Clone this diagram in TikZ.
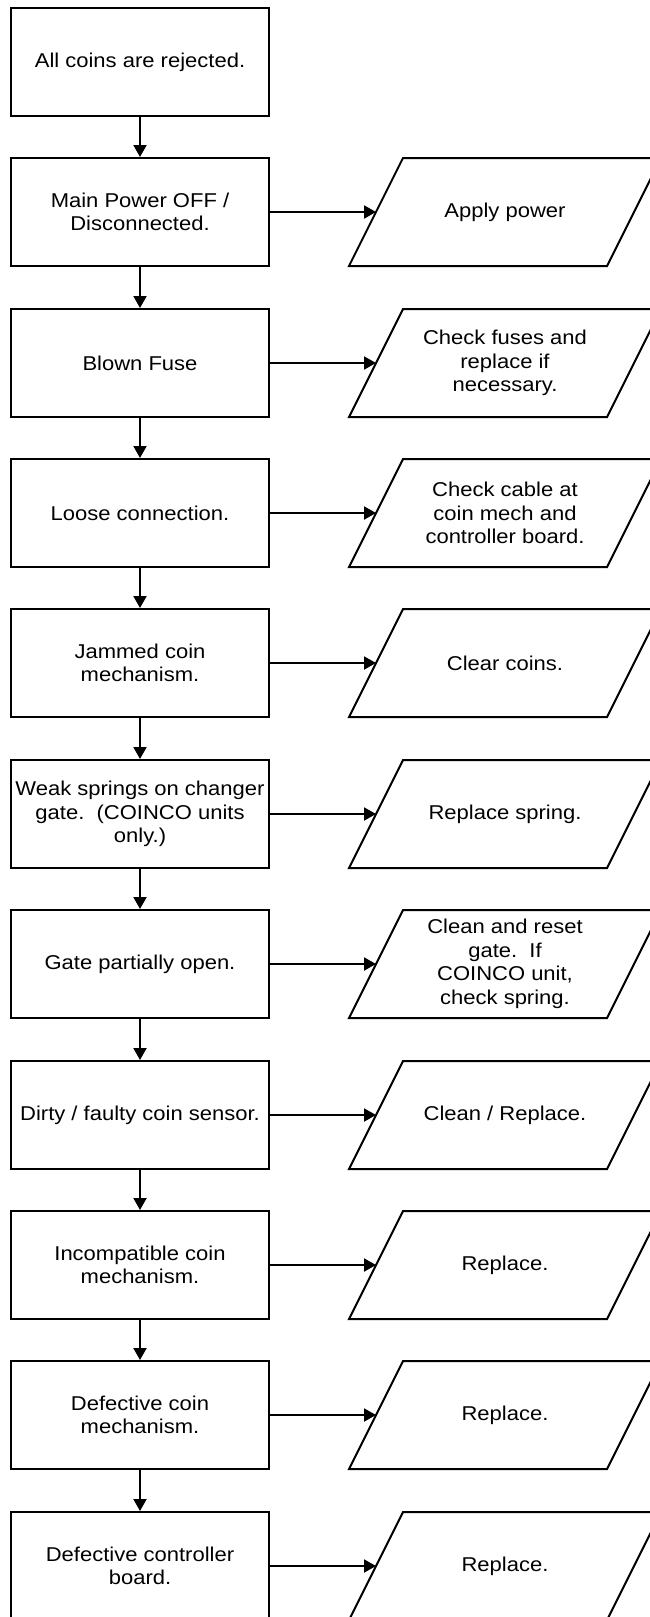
\documentclass[tikz,border=0pt]{standalone}
\usepackage{fontspec}
\setmainfont{Liberation Sans}[FakeStretch=1.1]
\usetikzlibrary{arrows.meta}
\tikzset{
  lbl/.style={font=\fontsize{20}{23.5}\selectfont, align=center, inner sep=0pt},
  cbox/.style={draw, line width=2pt, minimum width=258pt, minimum height=108pt, inner sep=0pt, lbl},
  para/.style={draw, line width=2pt, line join=miter},
  arr/.style={line width=2pt, -{Triangle[length=12pt,width=13pt]}},
}
\newcommand\actpara[3]{%
  \draw[para] ({349},{#2+54}) -- ({607},{#2+54}) -- ({661},{#2-54}) -- ({403},{#2-54}) -- cycle;
  \node[lbl] (#1) at ({505},{#2}) {#3};
  \coordinate (#1e) at ({376},{#2});
}
\begin{document}
\begin{tikzpicture}[x=1pt,y=-1pt]
\useasboundingbox (0,0) rectangle (650,1617);
\node[cbox] (b0) at (140,62) {All coins are rejected.};
\node[cbox] (b1) at (140,212) {Main Power OFF /\\Disconnected.};
\node[cbox] (b2) at (140,363) {Blown Fuse};
\node[cbox] (b3) at (140,513) {Loose connection.};
\node[cbox] (b4) at (140,663) {Jammed coin\\mechanism.};
\node[cbox] (b5) at (140,814) {Weak springs on changer\\gate.\ \ (COINCO units\\only.)};
\node[cbox] (b6) at (140,964) {Gate partially open.};
\node[cbox] (b7) at (140,1115) {Dirty / faulty coin sensor.};
\node[cbox] (b8) at (140,1265) {Incompatible coin\\mechanism.};
\node[cbox] (b9) at (140,1415) {Defective coin\\mechanism.};
\node[cbox] (b10) at (140,1566) {Defective controller\\board.};

\actpara{a1}{212}{Apply power}
\actpara{a2}{363}{Check fuses and\\replace if\\necessary.}
\actpara{a3}{513}{Check cable at\\coin mech and\\controller board.}
\actpara{a4}{663}{Clear coins.}
\actpara{a5}{814}{Replace spring.}
\actpara{a6}{964}{Clean and reset\\gate.\ \ If\\COINCO unit,\\check spring.}
\actpara{a7}{1115}{Clean / Replace.}
\actpara{a8}{1265}{Replace.}
\actpara{a9}{1415}{Replace.}
\actpara{a10}{1566}{Replace.}

\foreach \i [evaluate=\i as \j using int(\i+1)] in {0,...,9}
  \draw[arr] (b\i.south) -- (b\j.north);
\foreach \i in {1,...,10}
  \draw[arr] (b\i.east) -- (a\i e);
\end{tikzpicture}
\end{document}
